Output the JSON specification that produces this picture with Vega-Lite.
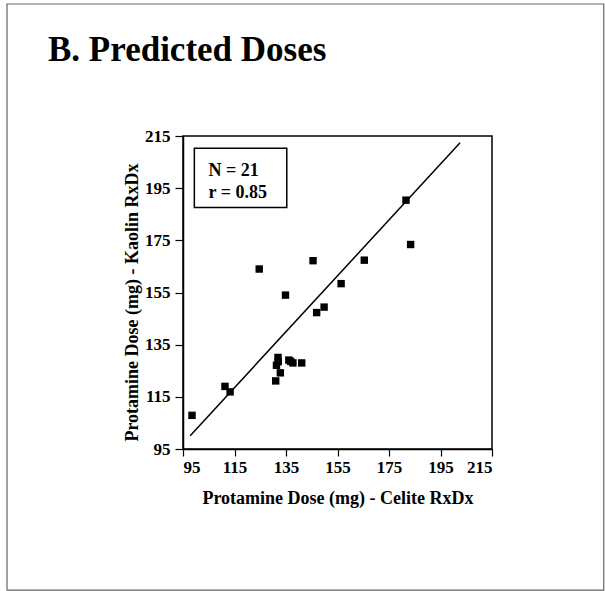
{
  "$schema": "https://vega.github.io/schema/vega-lite/v6.json",
  "width": 309,
  "height": 313,
  "autosize": {"type": "none"},
  "padding": {"left": 183, "top": 136, "right": 113, "bottom": 142},
  "background": "white",
  "title": {
    "text": "B. Predicted Doses",
    "anchor": "start",
    "frame": "group",
    "font": "Liberation Serif",
    "fontSize": 35,
    "fontWeight": "bold",
    "color": "black",
    "dx": -135,
    "dy": 93,
    "baseline": "alphabetic",
    "offset": 0
  },
  "config": {
    "view": {"stroke": "black", "strokeWidth": 1.5},
    "axis": {
      "domainColor": "black",
      "domainWidth": 1.5,
      "tickColor": "black",
      "tickWidth": 1.2,
      "grid": false,
      "labelFont": "Liberation Serif",
      "labelFontSize": 17,
      "labelFontWeight": "bold",
      "labelColor": "black",
      "titleFont": "Liberation Serif",
      "titleFontSize": 18,
      "titleFontWeight": "bold",
      "titleColor": "black"
    }
  },
  "datasets": {
    "doses": [
      {"celite": 98.5, "kaolin": 107.9},
      {"celite": 111.3, "kaolin": 119.0},
      {"celite": 113.3, "kaolin": 116.9},
      {"celite": 124.6, "kaolin": 164.0},
      {"celite": 134.8, "kaolin": 154.0},
      {"celite": 131.9, "kaolin": 130.1},
      {"celite": 131.3, "kaolin": 127.1},
      {"celite": 132.8, "kaolin": 124.2},
      {"celite": 131.0, "kaolin": 121.1},
      {"celite": 136.1, "kaolin": 129.1},
      {"celite": 137.7, "kaolin": 128.0},
      {"celite": 141.1, "kaolin": 128.0},
      {"celite": 132.0, "kaolin": 128.5},
      {"celite": 136.8, "kaolin": 128.6},
      {"celite": 145.5, "kaolin": 167.2},
      {"celite": 146.9, "kaolin": 147.3},
      {"celite": 149.8, "kaolin": 149.4},
      {"celite": 156.4, "kaolin": 158.4},
      {"celite": 165.4, "kaolin": 167.4},
      {"celite": 181.6, "kaolin": 190.4},
      {"celite": 183.4, "kaolin": 173.4}
    ],
    "fit": [
      {"celite": 97.8, "kaolin": 100.1},
      {"celite": 202.6, "kaolin": 212.4}
    ],
    "one": [{}]
  },
  "layer": [
    {
      "data": {"name": "one"},
      "mark": {"type": "rect", "fill": null, "filled": false, "stroke": "#666666", "strokeWidth": 1.2},
      "encoding": {
        "x": {"datum": 26.65, "type": "quantitative", "scale": {"domain": [95, 215], "nice": false, "zero": false}},
        "x2": {"datum": 258.4},
        "y": {"datum": 265.6, "type": "quantitative", "scale": {"domain": [95, 215], "nice": false, "zero": false}},
        "y2": {"datum": 40.9}
      }
    },
    {
      "data": {"name": "doses"},
      "mark": {"type": "point", "shape": "square", "filled": true, "color": "black", "size": 55, "opacity": 1},
      "encoding": {
        "x": {
          "field": "celite", "type": "quantitative",
          "scale": {"domain": [95, 215], "nice": false, "zero": false},
          "axis": {
            "title": "Protamine Dose (mg) - Celite RxDx",
            "values": [95, 105, 115, 125, 135, 145, 155, 165, 175, 185, 195, 205, 215],
            "labelExpr": "datum.value % 20 == 5 ? '' : datum.label",
            "tickSize": {"condition": {"test": "datum.value % 20 == 5", "value": 4}, "value": 7},
            "labelPadding": 3,
            "titleBaseline": "alphabetic",
            "titleY": 54
          }
        },
        "y": {
          "field": "kaolin", "type": "quantitative",
          "scale": {"domain": [95, 215], "nice": false, "zero": false},
          "axis": {
            "title": "Protamine Dose (mg) - Kaolin RxDx",
            "values": [95, 105, 115, 125, 135, 145, 155, 165, 175, 185, 195, 205, 215],
            "labelExpr": "datum.value % 20 == 5 ? '' : datum.label",
            "tickSize": {"condition": {"test": "datum.value % 20 == 5", "value": 4}, "value": 8},
            "labelPadding": 5,
            "titleX": -42,
            "titleY": 166
          }
        }
      }
    },
    {
      "data": {"name": "fit"},
      "mark": {"type": "line", "color": "black", "strokeWidth": 1.5},
      "encoding": {
        "x": {"field": "celite", "type": "quantitative"},
        "y": {"field": "kaolin", "type": "quantitative"}
      }
    },
    {
      "data": {"name": "one"},
      "mark": {"type": "rect", "fill": "white", "stroke": "black", "strokeWidth": 1.5},
      "encoding": {
        "x": {"datum": 99.4, "type": "quantitative"},
        "x2": {"datum": 135.3},
        "y": {"datum": 210.3, "type": "quantitative"},
        "y2": {"datum": 187.6}
      }
    },
    {
      "data": {"name": "one"},
      "mark": {"type": "text", "align": "left", "baseline": "alphabetic", "font": "Liberation Serif", "fontSize": 18, "fontWeight": "bold", "color": "black"},
      "encoding": {
        "x": {"datum": 104.9, "type": "quantitative"},
        "y": {"datum": 199.7, "type": "quantitative"},
        "text": {"value": "N = 21"}
      }
    },
    {
      "data": {"name": "one"},
      "mark": {"type": "text", "align": "left", "baseline": "alphabetic", "font": "Liberation Serif", "fontSize": 18, "fontWeight": "bold", "color": "black"},
      "encoding": {
        "x": {"datum": 104.9, "type": "quantitative"},
        "y": {"datum": 191.4, "type": "quantitative"},
        "text": {"value": "r = 0.85"}
      }
    }
  ]
}
